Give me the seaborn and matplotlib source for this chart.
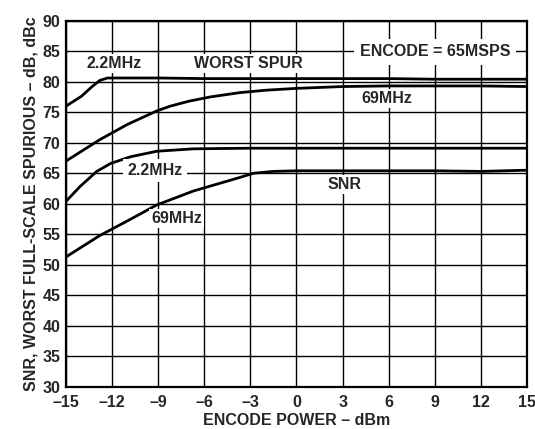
import matplotlib
matplotlib.use("Agg")
import matplotlib.pyplot as plt
import seaborn as sns
import pandas as pd

# ---- data ----
x_spur_22 = [-15, -14, -13.3, -12.8, -12.3, -11, -9, -6, -3, 0, 3, 6, 9, 12, 15]
y_spur_22 = [76.0, 77.6, 79.2, 80.2, 80.6, 80.6, 80.6, 80.5, 80.5, 80.5, 80.5, 80.5, 80.4, 80.4, 80.4]

x_spur_69 = [-15, -12.8, -11, -9.1, -8.2, -7, -5.6, -3.7, -2, 0, 3, 6, 9, 12, 15]
y_spur_69 = [67.0, 70.5, 73.0, 75.2, 76.0, 76.8, 77.5, 78.2, 78.6, 78.9, 79.2, 79.3, 79.3, 79.3, 79.2]

x_snr_22 = [-15, -14.1, -13, -12.1, -10.8, -9.1, -6.7, -3, 0, 3, 6, 9, 12, 15]
y_snr_22 = [60.4, 62.8, 65.3, 66.6, 67.7, 68.6, 69.0, 69.1, 69.1, 69.1, 69.1, 69.1, 69.1, 69.1]

x_snr_69 = [-15, -12.8, -11, -9.1, -6.7, -3.7, -2.8, -1.5, 0, 3, 6, 9, 12, 15]
y_snr_69 = [51.3, 54.8, 57.2, 59.8, 62.1, 64.3, 65.0, 65.3, 65.4, 65.4, 65.4, 65.4, 65.3, 65.5]

x_ticks = [-15, -12, -9, -6, -3, 0, 3, 6, 9, 12, 15]
y_ticks = [30, 35, 40, 45, 50, 55, 60, 65, 70, 75, 80, 85, 90]

series = {
    "spur_22": (x_spur_22, y_spur_22),
    "spur_69": (x_spur_69, y_spur_69),
    "snr_22": (x_snr_22, y_snr_22),
    "snr_69": (x_snr_69, y_snr_69),
}

sns.set_style("white")
plt.rcParams['font.family'] = ['Liberation Sans', 'DejaVu Sans']
plt.rcParams['font.weight'] = 'bold'
plt.rcParams['axes.labelweight'] = 'bold'

fig = plt.figure(figsize=(5.35, 4.29), dpi=100)
ax = fig.add_axes([0.1234, 0.098, 0.8616, 0.854])

for name, (xs, ys) in series.items():
    df = pd.DataFrame({"x": xs, "y": ys})
    sns.lineplot(data=df, x="x", y="y", ax=ax, color="black", linewidth=2.0,
                 sort=False, estimator=None, zorder=3)

ax.set_xlim(-15, 15)
ax.set_ylim(30, 90)
ax.set_xticks(x_ticks)
ax.set_xticklabels([("\u2013" + str(abs(t))) if t < 0 else str(t) for t in x_ticks])
ax.set_yticks(y_ticks)
ax.grid(True, color="black", linewidth=1.0, zorder=1)
ax.set_axisbelow(True)
for s in ax.spines.values():
    s.set_visible(True)
    s.set_color("black")
    s.set_linewidth(1.6)
ax.tick_params(axis="both", labelsize=11.5, length=2, width=1, direction="out",
               color="black")
ax.tick_params(axis="x", pad=4)
ax.tick_params(axis="y", pad=2)
for lbl in ax.get_xticklabels() + ax.get_yticklabels():
    lbl.set_fontweight("bold")

ax.set_xlabel("ENCODE POWER \u2013 dBm", fontsize=11.5, fontweight="bold", labelpad=2)
ax.set_ylabel("SNR, WORST FULL-SCALE SPURIOUS \u2013 dB, dBc", fontsize=11.5,
              fontweight="bold", labelpad=3)

box = dict(facecolor="white", edgecolor="none", pad=1.5)
kw = dict(fontsize=11.5, fontweight="bold", ha="center", va="center", zorder=4, bbox=box)
ax.text(-11.9, 83.0, "2.2MHz", **kw)
ax.text(-3.1, 83.0, "WORST SPUR", **kw)
ax.text(9.0, 84.9, "ENCODE = 65MSPS", **dict(kw, bbox=dict(facecolor="white", edgecolor="none", pad=4)))
ax.text(5.9, 77.3, "69MHz", **kw)
ax.text(-9.2, 65.4, "2.2MHz", **dict(kw, bbox=dict(facecolor="white", edgecolor="none", pad=3)))
ax.text(3.1, 63.2, "SNR", **kw)
ax.text(-7.8, 57.6, "69MHz", **kw)

fig.savefig("out.png", dpi=100)
